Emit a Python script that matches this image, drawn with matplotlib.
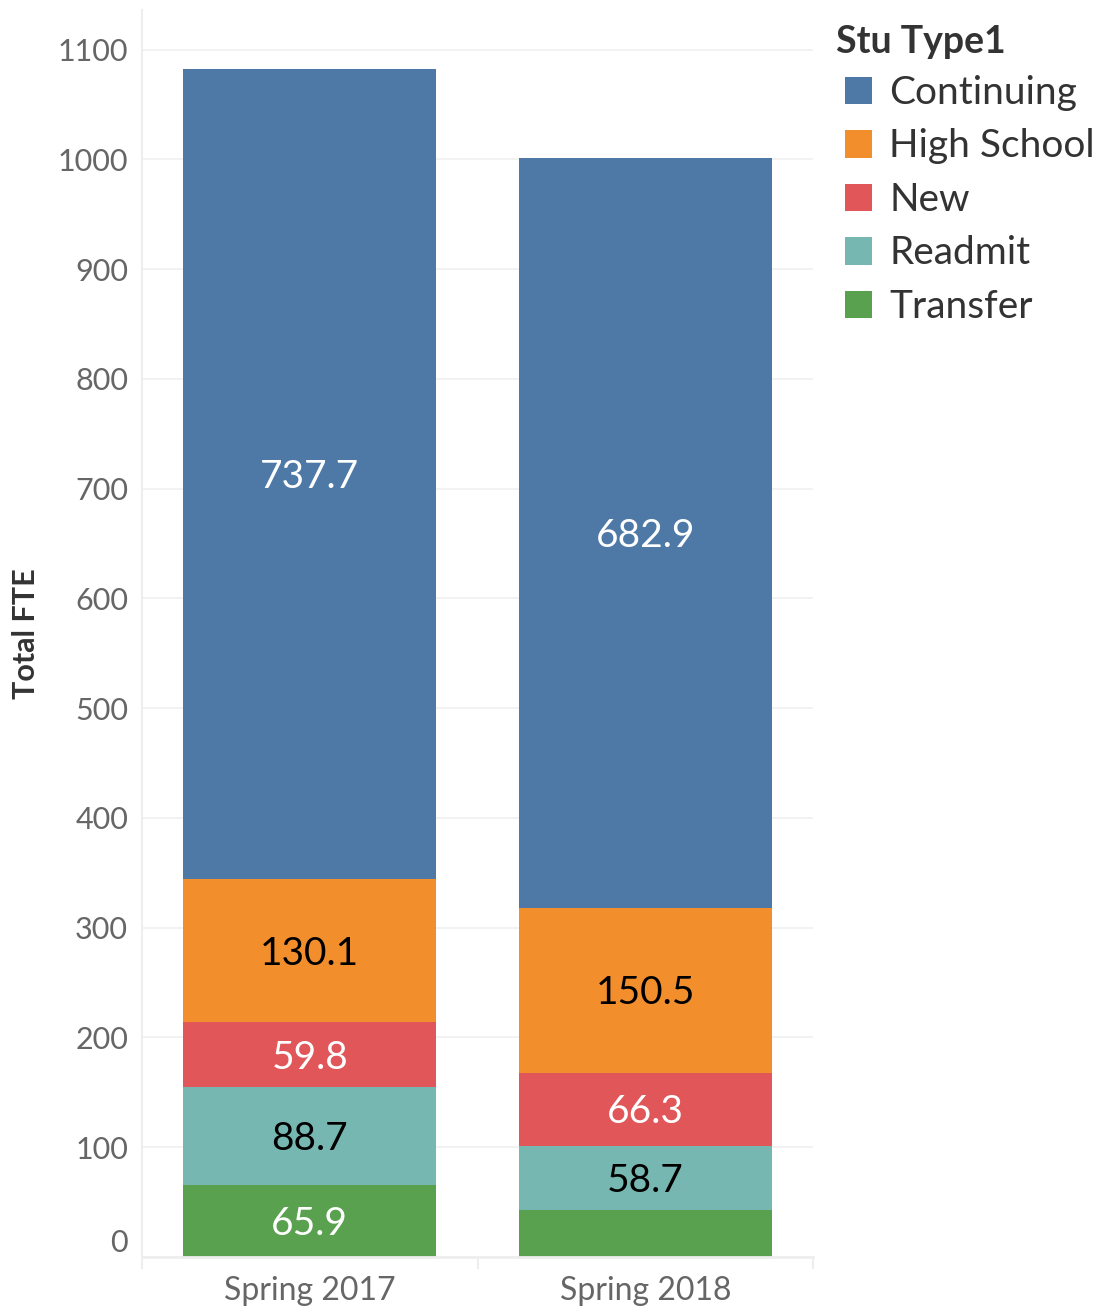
import numpy as np
import matplotlib
matplotlib.use("Agg")
import matplotlib.pyplot as plt

plt.rcParams["font.family"] = ["Lato", "DejaVu Sans"]

terms = ["Spring 2017", "Spring 2018"]
stu_types = ["Transfer", "Readmit", "New", "High School", "Continuing"]
transfer = [65.9, 42.8]
readmit = [88.7, 58.7]
new = [59.8, 66.3]
high_school = [130.1, 150.5]
continuing = [737.7, 682.9]

colors = {
    "Continuing": "#4e79a7",
    "High School": "#f28e2b",
    "New": "#e15759",
    "Readmit": "#76b7b2",
    "Transfer": "#59a14f",
}
label_colors = {
    "Continuing": "white",
    "High School": "black",
    "New": "white",
    "Readmit": "black",
    "Transfer": "white",
}
series = dict(zip(stu_types, [transfer, readmit, new, high_school, continuing]))

fig = plt.figure(figsize=(11.01, 13.09), dpi=100)
ax = fig.add_axes([142 / 1101, 52 / 1309, 671 / 1101, 1247 / 1309])

x = np.arange(len(terms))
bottom = np.zeros(len(terms))
handles = {}
for name in stu_types:
    vals = np.array(series[name])
    bars = ax.bar(x, vals, 0.753, bottom=bottom, color=colors[name], zorder=2)
    handles[name] = bars
    for xi, v, b in zip(x, vals, bottom):
        if v >= 50:
            ax.text(xi, b + v / 2 - 3, f"{v:.1f}", ha="center", va="center",
                    fontsize=28, color=label_colors[name], zorder=3)
    bottom += vals

ax.set_xlim(-0.5, 1.5)
ax.set_ylim(0, 1136)
ax.set_yticks(range(0, 1101, 100))
ax.set_xticks(x)
ax.set_xticklabels(terms)
ax.tick_params(axis="both", length=0, labelsize=22, labelcolor="#666666")
ax.tick_params(axis="x", labelsize=23, pad=14)
ax.tick_params(axis="y", pad=10)
# tableau keeps the 0 label above the baseline
ax.get_yticklabels()[0].set_verticalalignment("bottom")
ax.grid(axis="y", color="#f0f0f0", linewidth=1.2, zorder=0)
for side in ["top", "right"]:
    ax.spines[side].set_visible(False)
ax.spines["left"].set_color("#eeeeee")
ax.spines["left"].set_linewidth(1.5)
ax.spines["bottom"].set_color("#eeeeee")
ax.spines["bottom"].set_linewidth(2)
ax.set_ylabel("Total FTE", fontsize=22, fontweight="bold", color="#333333", labelpad=13)

# small separators under the x axis
for sx in [-0.5, 0.5, 1.5]:
    ax.plot([sx, sx], [-3, -10], color="#eeeeee", lw=1.5, clip_on=False)

order = ["Continuing", "High School", "New", "Readmit", "Transfer"]
fig.text(836 / 1101, 1 - 42 / 1309, "Stu Type1", fontsize=27, fontweight="bold",
         color="#333333", va="center", ha="left")
leg = fig.legend([handles[n] for n in order], order, loc="upper left",
                 bbox_to_anchor=(845 / 1101, 1 - 75 / 1309), frameon=False,
                 fontsize=28, handlelength=0.7, handleheight=0.7, handletextpad=0.44,
                 labelspacing=0.45, borderpad=0, borderaxespad=0)
for t in leg.get_texts():
    t.set_color("#333333")

fig.savefig("out.png", dpi=100)
plt.close(fig)
